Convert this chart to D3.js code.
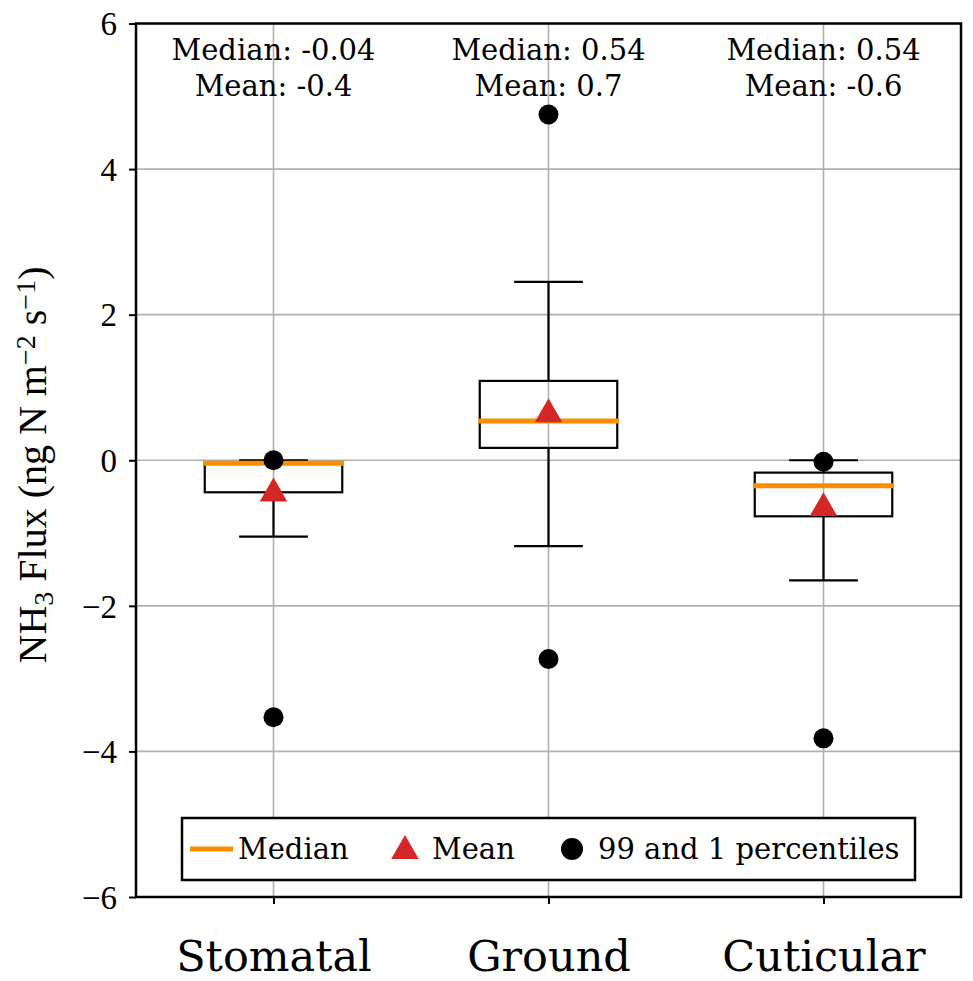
<!DOCTYPE html>
<html>
<head>
<meta charset="utf-8">
<script src="https://cdn.jsdelivr.net/npm/d3@7"></script>
<style>
  body { margin: 0; background: #fff; }
  svg { display: block; }
</style>
</head>
<body>
<div id="chart"></div>
<script>
// box statistics
var categories = ["Stomatal", "Ground", "Cuticular"];
var q1 = [-0.44, 0.17, -0.77];
var medians = [-0.04, 0.54, -0.35];
var q3 = [-0.03, 1.09, -0.17];
var whiskerLow = [-1.05, -1.18, -1.65];
var whiskerHigh = [0.0, 2.45, 0.0];
var means = [-0.43, 0.66, -0.63];
var p1 = [-3.53, -2.73, -3.82];
var p99 = [0.0, 4.75, -0.02];
var medianLabels = ["Median: -0.04", "Median: 0.54", "Median: 0.54"];
var meanLabels = ["Mean: -0.4", "Mean: 0.7", "Mean: -0.6"];
var yTicks = [-6, -4, -2, 0, 2, 4, 6];

var W = 973, H = 981;
var margin = {top: 23.5, right: 12, bottom: 84, left: 136};

var svg = d3.select("#chart").append("svg")
  .attr("width", W)
  .attr("height", H);

var x = d3.scaleLinear()
  .domain([0.5, 3.5])
  .range([margin.left, W - margin.right]);

var y = d3.scaleLinear()
  .domain([-6, 6])
  .range([H - margin.bottom, margin.top]);

var boxW = x(0.25) - x(0);  // half box width (0.5 wide)
var capW = x(0.125) - x(0); // half cap width

var data = categories.map(function(c, i) {
  return {name: c, pos: i + 1, q1: q1[i], med: medians[i], q3: q3[i],
    lo: whiskerLow[i], hi: whiskerHigh[i], mean: means[i], p1: p1[i], p99: p99[i]};
});

//Grid lines
var grid = svg.append("g").attr("class", "grid");
grid.selectAll(".hgrid").data(yTicks).enter().append("line")
  .attr("x1", x(0.5)).attr("x2", x(3.5))
  .attr("y1", function(d) { return y(d); })
  .attr("y2", function(d) { return y(d); })
  .style("stroke", "#b0b0b0").style("stroke-width", 1.6);
grid.selectAll(".vgrid").data(data).enter().append("line")
  .attr("x1", function(d) { return x(d.pos); })
  .attr("x2", function(d) { return x(d.pos); })
  .attr("y1", y(-6)).attr("y2", y(6))
  .style("stroke", "#b0b0b0").style("stroke-width", 1.6);

//Boxes
var boxes = svg.append("g").selectAll("g").data(data).enter().append("g");

boxes.append("line")
  .attr("x1", function(d) { return x(d.pos); })
  .attr("x2", function(d) { return x(d.pos); })
  .attr("y1", function(d) { return y(d.q1); })
  .attr("y2", function(d) { return y(d.lo); })
  .style("stroke", "#000").style("stroke-width", 2.2);
boxes.append("line")
  .attr("x1", function(d) { return x(d.pos); })
  .attr("x2", function(d) { return x(d.pos); })
  .attr("y1", function(d) { return y(d.q3); })
  .attr("y2", function(d) { return y(d.hi); })
  .style("stroke", "#000").style("stroke-width", 2.2);
boxes.selectAll(".cap").data(function(d) { return [{p: d.pos, v: d.lo}, {p: d.pos, v: d.hi}]; })
  .enter().append("line")
  .attr("x1", function(d) { return x(d.p) - capW; })
  .attr("x2", function(d) { return x(d.p) + capW; })
  .attr("y1", function(d) { return y(d.v); })
  .attr("y2", function(d) { return y(d.v); })
  .style("stroke", "#000").style("stroke-width", 2.2);
boxes.append("rect")
  .attr("x", function(d) { return x(d.pos) - boxW; })
  .attr("width", 2 * boxW)
  .attr("y", function(d) { return y(d.q3); })
  .attr("height", function(d) { return y(d.q1) - y(d.q3); })
  .style("fill", "none").style("stroke", "#000").style("stroke-width", 2.2);
boxes.append("line")
  .attr("x1", function(d) { return x(d.pos) - boxW - 1.5; })
  .attr("x2", function(d) { return x(d.pos) + boxW + 1.5; })
  .attr("y1", function(d) { return y(d.med); })
  .attr("y2", function(d) { return y(d.med); })
  .style("stroke", "#ff8c00").style("stroke-width", 5);

//Percentile dots
boxes.selectAll(".pct").data(function(d) { return [{p: d.pos, v: d.p1}, {p: d.pos, v: d.p99}]; })
  .enter().append("circle")
  .attr("cx", function(d) { return x(d.p); })
  .attr("cy", function(d) { return y(d.v); })
  .attr("r", 10)
  .style("fill", "#000");

//Mean triangles
var tri = d3.symbol().type(d3.symbolTriangle).size(330);
boxes.append("path")
  .attr("d", tri)
  .attr("transform", function(d) { return "translate(" + x(d.pos) + "," + (y(d.mean) + 2) + ")"; })
  .style("fill", "#d62728");

//Annotations
boxes.append("text")
  .attr("x", function(d) { return x(d.pos); })
  .attr("y", 60)
  .attr("text-anchor", "middle")
  .style("font-family", "DejaVu Serif").style("font-size", "29px")
  .text(function(d, i) { return medianLabels[i]; });
boxes.append("text")
  .attr("x", function(d) { return x(d.pos); })
  .attr("y", 96)
  .attr("text-anchor", "middle")
  .style("font-family", "DejaVu Serif").style("font-size", "29px")
  .text(function(d, i) { return meanLabels[i]; });

//Axes
var yAxis = d3.axisLeft(y).tickValues(yTicks).tickSize(7).tickPadding(12)
  .tickFormat(function(d) { return d < 0 ? "\u2212" + Math.abs(d) : d; });
var gy = svg.append("g").attr("transform", "translate(" + margin.left + ",0)").call(yAxis);
gy.select(".domain").remove();
gy.selectAll("line").style("stroke-width", 2);
gy.selectAll("text").style("font-family", "Liberation Serif").style("font-size", "33px")
  .attr("dy", "0.34em");

var xAxis = d3.axisBottom(x).tickValues([1, 2, 3]).tickSize(7).tickPadding(36)
  .tickFormat(function(d) { return categories[d - 1]; });
var gx = svg.append("g").attr("transform", "translate(0," + y(-6) + ")").call(xAxis);
gx.select(".domain").remove();
gx.selectAll("line").style("stroke-width", 2);
gx.selectAll("text").style("font-family", "DejaVu Serif").style("font-size", "43px");

//Frame
svg.append("rect")
  .attr("x", x(0.5)).attr("y", y(6))
  .attr("width", x(3.5) - x(0.5)).attr("height", y(-6) - y(6))
  .style("fill", "none").style("stroke", "#000").style("stroke-width", 2.5);

//Y label
var ylab = svg.append("text")
  .attr("transform", "translate(46," + 465 + ") rotate(-90)")
  .attr("text-anchor", "middle")
  .style("font-family", "Liberation Serif").style("font-size", "40px");
ylab.append("tspan").text("NH");
ylab.append("tspan").attr("baseline-shift", "-25%").style("font-size", "28px").text("3");
ylab.append("tspan").text(" Flux (ng N m");
ylab.append("tspan").attr("baseline-shift", "40%").style("font-size", "28px").text("\u22122");
ylab.append("tspan").text(" s");
ylab.append("tspan").attr("baseline-shift", "40%").style("font-size", "28px").text("\u22121");
ylab.append("tspan").text(")");

//Legend
var legend = svg.append("g").attr("transform", "translate(182,818)");
legend.append("rect")
  .attr("width", 733).attr("height", 62)
  .style("fill", "#fff").style("stroke", "#000").style("stroke-width", 2.5);
legend.append("line")
  .attr("x1", 8).attr("x2", 51).attr("y1", 31).attr("y2", 31)
  .style("stroke", "#ff8c00").style("stroke-width", 5);
legend.append("path")
  .attr("d", tri)
  .attr("transform", "translate(223,33)")
  .style("fill", "#d62728");
legend.append("circle")
  .attr("cx", 390).attr("cy", 31).attr("r", 11)
  .style("fill", "#000");
var legendText = [{x: 56, t: "Median"}, {x: 250, t: "Mean"}, {x: 416, t: "99 and 1 percentiles"}];
legend.selectAll(".lt").data(legendText).enter().append("text")
  .attr("x", function(d) { return d.x; })
  .attr("y", 41)
  .style("font-family", "DejaVu Serif").style("font-size", "29px")
  .text(function(d) { return d.t; });
</script>
</body>
</html>
